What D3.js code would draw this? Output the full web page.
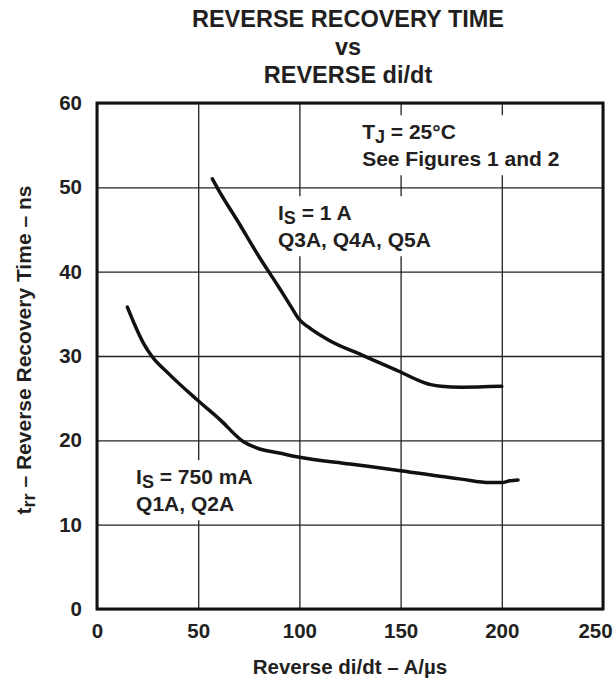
<!DOCTYPE html>
<html>
<head>
<meta charset="utf-8">
<script src="https://cdn.jsdelivr.net/npm/d3@7"></script>
<style>
body { margin: 0; background: #fff; }
svg text { font-family: "Liberation Sans", Arial, Helvetica, sans-serif; font-weight: bold; fill: #231f20; }
</style>
</head>
<body>
<script>
// plot box
var margin = {top: 103, right: 11, bottom: 72, left: 97},
    width = 614 - margin.left - margin.right,
    height = 681 - margin.top - margin.bottom;

// axes
var xTicks = [0, 50, 100, 150, 200, 250];
var yTicks = [0, 10, 20, 30, 40, 50, 60];

// Is = 1 A curve (Q3A, Q4A, Q5A)
var amp1_didt = [57, 60, 70, 80, 90, 96, 100, 104, 115, 131, 150, 160, 165, 170, 180, 200];
var amp1_trr  = [51, 49.7, 45.8, 41.8, 38.1, 35.8, 34.3, 33.5, 31.8, 30.1, 28.1, 27, 26.6, 26.4, 26.3, 26.4];

// Is = 750 mA curve (Q1A, Q2A)
var ma750_didt = [15, 19, 23, 27, 35, 49, 61, 72, 80, 90, 100, 125, 150, 180, 194, 200, 204, 208];
var ma750_trr  = [35.8, 33.5, 31.5, 30, 28, 24.9, 22.4, 19.9, 19, 18.5, 18, 17.2, 16.4, 15.4, 15, 15, 15.2, 15.3];

// annotation anchors, in data units (x, baseline y of first line)
var noteTj   = {x: 131, y: 55.7};
var note1A   = {x: 89.4, y: 46.1};
var note750  = {x: 19.3, y: 14.8};

var svg = d3.select("body").append("svg")
    .attr("width", width + margin.left + margin.right)
    .attr("height", height + margin.top + margin.bottom);

// title
var titleLines = ["REVERSE RECOVERY TIME", "vs", "REVERSE di/dt"];
svg.append("g").selectAll("text")
    .data(titleLines)
  .enter().append("text")
    .attr("x", 348)
    .attr("y", function(d, i) { return 27 + i * 28; })
    .attr("text-anchor", "middle")
    .style("font-size", "23.5px")
    .text(function(d) { return d; });

var g = svg.append("g")
    .attr("transform", "translate(" + margin.left + "," + margin.top + ")");

var x = d3.scaleLinear().domain([0, 250]).range([0, width]);
var y = d3.scaleLinear().domain([0, 60]).range([height, 0]);

// grid lines
g.append("g")
    .attr("transform", "translate(0," + height + ")")
    .call(d3.axisBottom(x).tickValues(xTicks).tickSize(-height).tickFormat(""))
    .call(function(s) {
        s.select(".domain").remove();
        s.selectAll("line").attr("stroke", "#222").attr("stroke-width", 1.3);
    });
g.append("g")
    .call(d3.axisLeft(y).tickValues(yTicks).tickSize(-width).tickFormat(""))
    .call(function(s) {
        s.select(".domain").remove();
        s.selectAll("line").attr("stroke", "#222").attr("stroke-width", 1.3);
    });

// tick labels
g.append("g")
    .attr("transform", "translate(0," + height + ")")
    .call(d3.axisBottom(x).tickValues(xTicks).tickSize(0).tickPadding(14))
    .call(function(s) {
        s.select(".domain").remove();
        s.attr("font-family", null).attr("font-size", null);
        s.selectAll("text").style("font-size", "20.5px");
        // last label sits on the page edge; pull it in so it stays whole
        s.selectAll("text").filter(function(d) { return d === 250; }).attr("dx", -8);
    });
g.append("g")
    .call(d3.axisLeft(y).tickValues(yTicks).tickSize(0).tickPadding(15))
    .call(function(s) {
        s.select(".domain").remove();
        s.attr("font-family", null).attr("font-size", null);
        s.selectAll("text").style("font-size", "20.5px");
    });

// annotations with a white box behind (gaps in the grid)
function note(pos, lines) {
    var ng = g.append("g");
    var box = ng.append("rect").attr("fill", "#fff");
    var t = ng.append("text")
        .attr("x", x(pos.x))
        .attr("y", y(pos.y))
        .style("font-size", "21px");
    lines.forEach(function(line, i) {
        var first = true;
        line.forEach(function(part) {
            var ts = t.append("tspan").text(part.t);
            if (first) ts.attr("x", x(pos.x)).attr("dy", i === 0 ? 0 : 27);
            if (part.sub) ts.style("font-size", "18px").attr("dy", (first ? (i === 0 ? 0 : 27) : 0) + 4);
            if (part.back) ts.attr("dy", -4);
            first = false;
        });
    });
    var bb = t.node().getBBox();
    box.attr("x", bb.x - 8).attr("y", bb.y - 5)
       .attr("width", bb.width + 16).attr("height", bb.height + 10);
}

note(noteTj, [
    [{t: "T"}, {t: "J", sub: true}, {t: " = 25\u00b0C", back: true}],
    [{t: "See Figures 1 and 2"}]
]);
note(note1A, [
    [{t: "I"}, {t: "S", sub: true}, {t: " = 1 A", back: true}],
    [{t: "Q3A, Q4A, Q5A"}]
]);
note(note750, [
    [{t: "I"}, {t: "S", sub: true}, {t: " = 750 mA", back: true}],
    [{t: "Q1A, Q2A"}]
]);

// plot border
g.append("rect")
    .attr("x", x(0)).attr("y", y(60))
    .attr("width", x(250) - x(0)).attr("height", y(0) - y(60))
    .attr("fill", "none").attr("stroke", "#111").attr("stroke-width", 3);

// curves
var line = d3.line()
    .x(function(d) { return x(d[0]); })
    .y(function(d) { return y(d[1]); })
    .curve(d3.curveMonotoneX);

g.append("path")
    .datum(d3.zip(amp1_didt, amp1_trr))
    .attr("d", line)
    .attr("fill", "none").attr("stroke", "#111").attr("stroke-width", 3.5)
    .attr("stroke-linecap", "round");

g.append("path")
    .datum(d3.zip(ma750_didt, ma750_trr))
    .attr("d", line)
    .attr("fill", "none").attr("stroke", "#111").attr("stroke-width", 3.5)
    .attr("stroke-linecap", "round");

// axis titles
svg.append("text")
    .attr("x", margin.left + width / 2)
    .attr("y", 674)
    .attr("text-anchor", "middle")
    .style("font-size", "20.5px")
    .text("Reverse di/dt \u2013 A/\u00b5s");

var yt = svg.append("text")
    .attr("transform", "translate(31," + (margin.top + height / 2 - 6) + ") rotate(-90)")
    .attr("text-anchor", "middle")
    .style("font-size", "21px");
yt.append("tspan").text("t");
yt.append("tspan").text("rr").attr("dy", 4).style("font-size", "18px");
yt.append("tspan").text(" \u2013 Reverse Recovery Time \u2013 ns").attr("dy", -4);
</script>
</body>
</html>
